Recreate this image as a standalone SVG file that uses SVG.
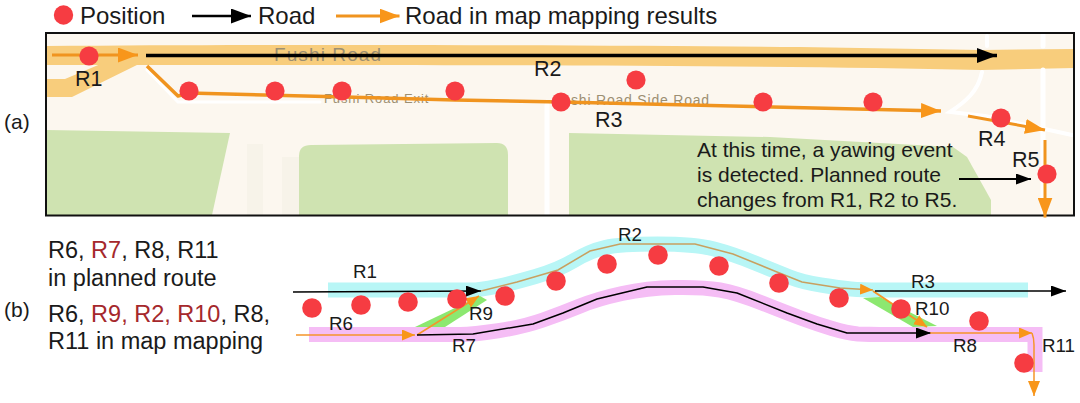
<svg xmlns="http://www.w3.org/2000/svg" width="1080" height="403" viewBox="0 0 1080 403">
<style>
text{font-family:"Liberation Sans",Arial,sans-serif;fill:#1a1a1a}
.l{font-size:24px}
.m{font-size:21.500px}
.a{font-size:21px}
.s{font-size:23.500px}
.n{font-size:18.800px}
.dot{fill:#f63c42}
.o{fill:none;stroke:#f0941f;stroke-width:3;stroke-linejoin:round}
.o2{fill:none;stroke:#f5952a;stroke-width:1.500;stroke-linejoin:round}
.mapt{fill:#9c8f72}
.cy{fill:none;stroke:#b8f6f6;stroke-width:15}
.pk{fill:none;stroke:#f5bdf5;stroke-width:15;stroke-linejoin:miter}
.gr{fill:#8ce870}
.red{fill:#a5282c}
.wr{fill:none;stroke:#fff;stroke-linecap:round}
</style>
<defs>
<marker id="ao" markerUnits="userSpaceOnUse" markerWidth="20" markerHeight="15" refX="20" refY="7.500" orient="auto"><path d="M0 0L20 7.500L0 15Z" fill="#f8961a"/></marker>
<marker id="aom" markerUnits="userSpaceOnUse" markerWidth="15" markerHeight="12" refX="15" refY="6" orient="auto"><path d="M0 0L15 6L0 12Z" fill="#f8961a"/></marker>
<marker id="aos" markerUnits="userSpaceOnUse" markerWidth="13" markerHeight="11" refX="13" refY="5.500" orient="auto"><path d="M0 0L13 5.500L0 11Z" fill="#f8961a"/></marker>
<marker id="ab" markerUnits="userSpaceOnUse" markerWidth="20" markerHeight="15" refX="20" refY="7.500" orient="auto"><path d="M0 0L20 7.500L0 15Z" fill="#000"/></marker>
<marker id="abs" markerUnits="userSpaceOnUse" markerWidth="15" markerHeight="11" refX="15" refY="5.500" orient="auto"><path d="M0 0L15 5.500L0 11Z" fill="#000"/></marker>
</defs>

<g id="legend">
<circle class="dot" cx="63.500" cy="15" r="9.700"/>
<text class="l" x="80" y="24">Position</text>
<path d="M192 16H251" fill="none" stroke="#000" stroke-width="2.500" marker-end="url(#ab)"/>
<text class="l" x="258" y="24">Road</text>
<path d="M336 16H399.500" class="o" marker-end="url(#ao)"/>
<text class="l" x="405" y="24">Road in map mapping results</text>
</g>

<g id="map">
<rect x="46" y="33" width="1028" height="182.500" fill="#fcf7ef"/>
<path d="M46 46C300 44 600 45 800 47L981 50L1074 49V68L981 70C700 64 300 65 46 65Z" fill="#f8cd7c"/>
<path d="M46 79H65L103 63H141L72 97H46Z" fill="#f8cd7c"/>
<path d="M46 130L230 133L212 215H46Z" fill="#cfe3b1"/>
<path d="M299 156Q299 145 311 145L497 143Q508 143 508 155V215H299Z" fill="#cfe3b1"/>
<path d="M569 133L770 137L953 147L967 157L991 200V215H569Z" fill="#cfe3b1"/>
<path d="M247 144H263V215H247ZM282 157H299V215H282Z" fill="#f7f3e9"/>
<path class="wr" stroke-width="3" d="M147 70L178 102H320"/>
<path class="wr" stroke-width="4" d="M987 36V46M982 72C978 92 965 102 950 112L985 116L1072 135"/>
<path class="wr" stroke-width="5" d="M1043 35V46M1043 70V214M547 105V214"/>
<text class="mapt" x="274" y="61" style="font-size:19px;letter-spacing:1.100px">Fushi Road</text>
<text class="mapt" x="324" y="103" style="font-size:13px;letter-spacing:.9px">Fushi Road Exit</text>
<text class="mapt" x="571" y="105" style="font-size:14px;letter-spacing:.8px">shi Road Side Road</text>
<rect x="46" y="33" width="1028" height="182.500" fill="none" stroke="#111" stroke-width="2"/>
</g>

<g id="connectors-a">
<path d="M52 55H138" class="o" marker-end="url(#ao)"/>
<path d="M146 55.500H997" fill="none" stroke="#000" stroke-width="3.300" marker-end="url(#ab)"/>
<path d="M147 66L178 96L189 93L345 97L455 100L561 102L941 111" class="o" style="stroke-width:3.500" marker-end="url(#ao)"/>
<path d="M968 116L1045 130" class="o" marker-end="url(#ao)"/>
<path d="M1045 140V217.500" class="o" marker-end="url(#ao)"/>
<path d="M959 179H1031" fill="none" stroke="#000" stroke-width="2" marker-end="url(#abs)"/>
</g>

<g id="map-positions">
<circle class="dot" cx="89" cy="56" r="9.600"/>
<circle class="dot" cx="189" cy="91" r="9.600"/>
<circle class="dot" cx="275" cy="91" r="9.600"/>
<circle class="dot" cx="342" cy="91" r="9.600"/>
<circle class="dot" cx="455" cy="91" r="9.600"/>
<circle class="dot" cx="561" cy="102" r="9.600"/>
<circle class="dot" cx="636" cy="80" r="9.600"/>
<circle class="dot" cx="763" cy="102" r="9.600"/>
<circle class="dot" cx="873" cy="102" r="9.600"/>
<circle class="dot" cx="1001" cy="118" r="9.600"/>
<circle class="dot" cx="1047" cy="174" r="9.600"/>
</g>

<g id="map-labels">
<text class="m" x="75" y="86">R1</text>
<text class="m" x="534" y="76">R2</text>
<text class="m" x="595" y="127">R3</text>
<text class="m" x="978" y="146">R4</text>
<text class="m" x="1012" y="167">R5</text>
<text class="a" x="697" y="157">At this time, a yawing event</text>
<text class="a" x="697" y="182">is detected. Planned route</text>
<text class="a" x="697" y="207">changes from R1, R2 to R5.</text>
<text class="a" x="4" y="129">(a)</text>
<text class="a" x="4" y="317">(b)</text>
</g>

<g id="side-text">
<text class="s" x="48" y="258">R6, <tspan class="red">R7</tspan>, R8, R11</text>
<text class="s" x="48" y="286">in planned route</text>
<text class="s" x="48" y="322">R6, <tspan class="red">R9, R2, R10</tspan>, R8,</text>
<text class="s" x="48" y="349">R11 in map mapping</text>
</g>

<g id="bands">
<path class="cy" d="M328 290H470Q480 290 496.500 286.500Q513 283 535.500 276.500Q558 270 574 260.500Q590 251 605 247.500Q620 244 657.500 244Q695 244 714 249Q733 254 755 263Q777 272 789.500 277Q802 282 821 285Q840 288 851 289Q862 290 880 290H1028"/>
<path class="pk" d="M309 334.500H460Q473 334.500 498 330.750Q523 327 543 320Q563 313 580 306Q597 299 622 293.500Q647 288 675 287.500Q703 287 720 290Q737 293 762 303Q787 313 802 318.500Q817 324 832 328.500Q847 333 858 334Q870 334.500 880 334.500H1035V372"/>
<path class="gr" d="M415 327L480 296L487 300L445 327Z"/>
<path class="gr" d="M863 298L880 297L937 326L913 327Z"/>
</g>

<g id="connectors-b">
<path d="M293 292L481 291" fill="none" stroke="#000" stroke-width="1.500" marker-end="url(#abs)"/>
<path d="M481 291L517 282L558 270L590 251L620 244H695L733 254L777 272L802 282L840 288L873 290" fill="none" stroke="#c8a060" stroke-width="1.500" marker-end="url(#aos)"/>
<path d="M296 335H415" class="o2" marker-end="url(#aos)"/>
<path d="M417 335L479 296" class="o2" marker-end="url(#aos)"/>
<path d="M417 335L473 334L533 324L563 313L597 299L647 287H703L737 293L787 313L817 324L847 333H931" fill="none" stroke="#000" stroke-width="1.500" stroke-linejoin="round" marker-end="url(#abs)"/>
<path d="M873 291L927 327" class="o2" style="stroke-width:2" marker-end="url(#aos)"/>
<path d="M930 333H1032" class="o2" marker-end="url(#aos)"/>
<path d="M1032 333Q1034 338 1034 345V396" class="o2" marker-end="url(#aom)"/>
<path d="M875 291H1066" fill="none" stroke="#000" stroke-width="1.500" marker-end="url(#abs)"/>
</g>

<g id="b-positions">
<circle class="dot" cx="312" cy="308" r="9.800"/>
<circle class="dot" cx="361" cy="305" r="9.800"/>
<circle class="dot" cx="408" cy="302" r="9.800"/>
<circle class="dot" cx="457" cy="299" r="9.800"/>
<circle class="dot" cx="505" cy="296" r="9.800"/>
<circle class="dot" cx="556" cy="281" r="9.800"/>
<circle class="dot" cx="607" cy="264" r="9.800"/>
<circle class="dot" cx="658" cy="255" r="9.800"/>
<circle class="dot" cx="719" cy="266" r="9.800"/>
<circle class="dot" cx="779" cy="283" r="9.800"/>
<circle class="dot" cx="839" cy="298" r="9.800"/>
<circle class="dot" cx="901" cy="309" r="9.800"/>
<circle class="dot" cx="979" cy="321" r="9.800"/>
<circle class="dot" cx="1024" cy="363" r="9.800"/>
</g>

<g id="b-labels">
<text class="n" x="353" y="278">R1</text>
<text class="n" x="618" y="241">R2</text>
<text class="n" x="911" y="288">R3</text>
<text class="n" x="329" y="330">R6</text>
<text class="n" x="452" y="352">R7</text>
<text class="n" x="953" y="352">R8</text>
<text class="n" x="469" y="320">R9</text>
<text class="n" x="915" y="315">R10</text>
<text class="n" x="1042" y="352">R11</text>
</g>
</svg>
